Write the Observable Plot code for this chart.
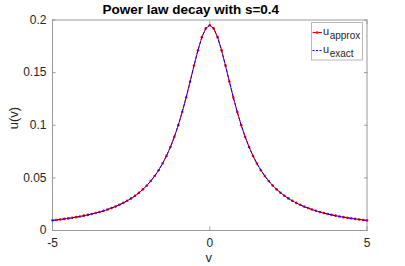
<!DOCTYPE html>
<html>
<head>
<meta charset="utf-8">
<script src="https://cdn.jsdelivr.net/npm/d3@7"></script>
<script src="https://cdn.jsdelivr.net/npm/@observablehq/plot@0.6"></script>
<style>
  html, body { margin: 0; padding: 0; background: #fff; }
  #chart { position: relative; width: 405px; height: 266px; }
</style>
</head>
<body>
<div id="chart"></div>
<script>
const titleText = "Power law decay with s=0.4";
const xLabel = "v";
const yLabel = "u(v)";
const xTicks = [-5, 0, 5];
const xTickLabels = ["-5", "0", "5"];
const yTicks = [0, 0.05, 0.1, 0.15, 0.2];
const yTickLabels = ["0", "0.05", "0.1", "0.15", "0.2"];
const seriesNames = ["approx", "exact"];

const v = [-5,-4.875,-4.75,-4.625,-4.5,-4.375,-4.25,-4.125,-4,-3.875,-3.75,-3.625,-3.5,-3.375,-3.25,-3.125,
  -3,-2.875,-2.75,-2.625,-2.5,-2.375,-2.25,-2.125,-2,-1.875,-1.75,-1.625,-1.5,-1.375,-1.25,-1.125,
  -1,-0.875,-0.75,-0.625,-0.5,-0.375,-0.25,-0.125,0,0.125,0.25,0.375,0.5,0.625,0.75,0.875,
  1,1.125,1.25,1.375,1.5,1.625,1.75,1.875,2,2.125,2.25,2.375,2.5,2.625,2.75,2.875,
  3,3.125,3.25,3.375,3.5,3.625,3.75,3.875,4,4.125,4.25,4.375,4.5,4.625,4.75,4.875,5];

const uApprox = [0.0096,0.0100,0.0105,0.0110,0.0115,0.0121,0.0127,0.0133,0.0141,0.0148,0.0157,0.0166,0.0176,0.0187,0.0199,0.0213,
  0.0227,0.0244,0.0262,0.0282,0.0305,0.0330,0.0359,0.0391,0.0428,0.0470,0.0518,0.0573,0.0636,0.0709,0.0793,0.0890,
  0.1001,0.1126,0.1264,0.1414,0.1567,0.1713,0.1837,0.1920,0.1950,0.1920,0.1837,0.1713,0.1567,0.1414,0.1264,0.1126,
  0.1001,0.0890,0.0793,0.0709,0.0636,0.0573,0.0518,0.0470,0.0428,0.0391,0.0359,0.0330,0.0305,0.0282,0.0262,0.0244,
  0.0227,0.0213,0.0199,0.0187,0.0176,0.0166,0.0157,0.0148,0.0141,0.0133,0.0127,0.0121,0.0115,0.0110,0.0105,0.0100,0.0096];

const uExact = [0.0096,0.0100,0.0105,0.0110,0.0115,0.0121,0.0127,0.0133,0.0141,0.0148,0.0157,0.0166,0.0176,0.0187,0.0199,0.0213,
  0.0227,0.0244,0.0262,0.0282,0.0305,0.0330,0.0359,0.0391,0.0428,0.0470,0.0518,0.0573,0.0636,0.0709,0.0793,0.0890,
  0.1001,0.1126,0.1264,0.1414,0.1567,0.1713,0.1837,0.1920,0.1950,0.1920,0.1837,0.1713,0.1567,0.1414,0.1264,0.1126,
  0.1001,0.0890,0.0793,0.0709,0.0636,0.0573,0.0518,0.0470,0.0428,0.0391,0.0359,0.0330,0.0305,0.0282,0.0262,0.0244,
  0.0227,0.0213,0.0199,0.0187,0.0176,0.0166,0.0157,0.0148,0.0141,0.0133,0.0127,0.0121,0.0115,0.0110,0.0105,0.0100,0.0096];

const approxData = v.map((x, i) => ({v: x, u: uApprox[i]}));
const exactData = v.map((x, i) => ({v: x, u: uExact[i]}));

const font = "'Liberation Sans', Arial, Helvetica, sans-serif";
const axisGray = "#9a9a9a";
const textColor = "#262626";

const plot = Plot.plot({
  width: 405,
  height: 266,
  marginLeft: 52,
  marginRight: 38.5,
  marginTop: 19.5,
  marginBottom: 36,
  style: {fontFamily: font, fontSize: "12px", color: textColor, background: "#fff", overflow: "visible"},
  x: {domain: [-5, 5]},
  y: {domain: [0, 0.2]},
  marks: [
    Plot.frame({stroke: axisGray, strokeWidth: 1}),
    Plot.axisX(xTicks, {anchor: "bottom", tickSize: 0, tickPadding: 7.5, label: null, stroke: "none", fill: textColor, tickFormat: (d, i) => xTickLabels[i]}),
    Plot.axisX(xTicks, {anchor: "bottom", tickSize: -3.5, text: null, label: null, stroke: axisGray}),
    Plot.axisX(xTicks, {anchor: "top", tickSize: -3.5, text: null, label: null, stroke: axisGray}),
    Plot.axisY(yTicks, {anchor: "left", tickSize: 0, tickPadding: 6, label: null, tickFormat: (d, i) => yTickLabels[i], fill: textColor}),
    Plot.axisY(yTicks, {anchor: "left", tickSize: -3.5, text: null, label: null, stroke: axisGray}),
    Plot.axisY(yTicks, {anchor: "right", tickSize: -3.5, text: null, label: null, stroke: axisGray}),
    Plot.line(approxData, {x: "v", y: "u", stroke: "#ff0000", strokeWidth: 1}),
    Plot.dot(approxData, {x: "v", y: "u", fill: "#ff0000", stroke: "none", r: 1.3}),
    Plot.line(exactData, {x: "v", y: "u", stroke: "#0000ff", strokeWidth: 1, strokeDasharray: "3,2"}),
    Plot.text([titleText], {frameAnchor: "top", lineAnchor: "middle", dx: -19, dy: -10.6, fontSize: 13.5, fontWeight: "bold", fill: "#000"}),
    Plot.text([xLabel], {frameAnchor: "bottom", lineAnchor: "middle", dx: -1, dy: 27, fontSize: 13, fill: textColor}),
    Plot.text([yLabel], {frameAnchor: "left", lineAnchor: "middle", dx: -38.5, dy: 4, rotate: -90, fontSize: 13, fill: textColor})
  ]
});

document.getElementById("chart").appendChild(plot);

// Legend (inside the axes, top-right), MATLAB-style
const svg = d3.select(plot);
const lg = svg.append("g").attr("font-family", font).attr("fill", textColor).attr("text-anchor", "start");
lg.append("rect").attr("x", 311.5).attr("y", 22.5).attr("width", 51).attr("height", 37.5)
  .attr("fill", "#fff").attr("stroke", "#b8b8b8").attr("stroke-width", 1);
const rows = [
  {name: seriesNames[0], color: "#ff0000", dash: null, marker: true, y: 32.5},
  {name: seriesNames[1], color: "#0000ff", dash: "2,1.5", marker: false, y: 50.5}
];
rows.forEach(r => {
  lg.append("line").attr("x1", 312.5).attr("x2", 322).attr("y1", r.y).attr("y2", r.y)
    .attr("stroke", r.color).attr("stroke-width", 1).attr("stroke-dasharray", r.dash);
  if (r.marker) lg.append("circle").attr("cx", 317.2).attr("cy", r.y).attr("r", 1.3).attr("fill", r.color);
  const t = lg.append("text").attr("x", 323).attr("y", r.y + 2.5).attr("font-size", 11);
  t.append("tspan").text("u");
  t.append("tspan").attr("dy", 3.5).attr("dx", 0.5).attr("font-size", 10).text(r.name);
});
</script>
</body>
</html>
